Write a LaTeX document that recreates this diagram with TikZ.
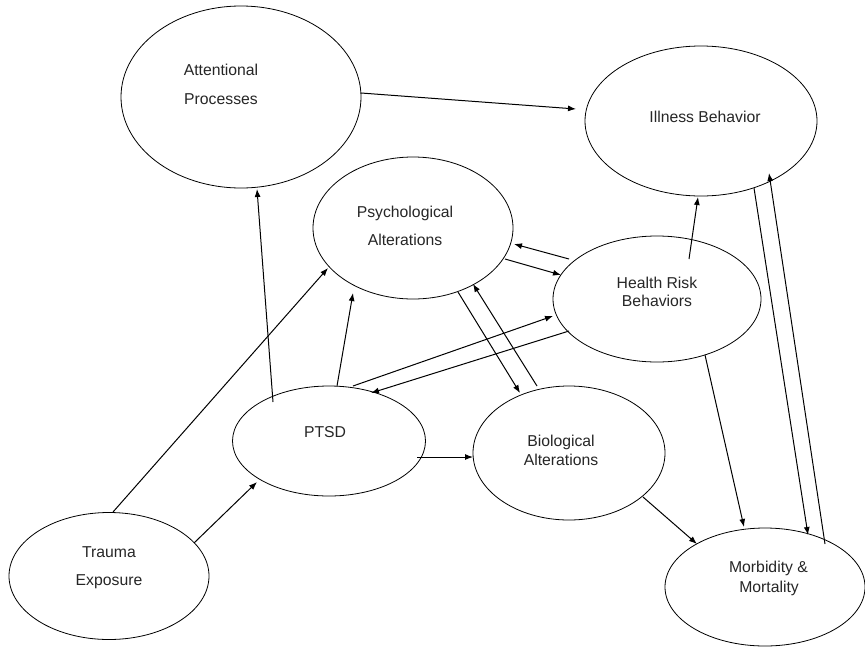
\documentclass[tikz,border=0pt]{standalone}
\usepackage{fontspec}
\setmainfont{Liberation Sans}
\usetikzlibrary{shapes.geometric,arrows.meta,calc}
\tikzset{
  ell/.style={draw, ellipse, inner sep=0pt, line width=0.8pt},
  lbl/.style={anchor=base, inner sep=0pt, font=\fontsize{15.75}{18}\selectfont, text=black!85},
  arr/.style={line width=1pt, -{Latex[length=8pt,width=6pt]}}
}
\begin{document}
\begin{tikzpicture}[x=1pt,y=-1pt]
\useasboundingbox[fill=white] (0,0) rectangle (865,646);
% ellipses
\node[ell, minimum width=240, minimum height=182] (att) at (241,97) {};
\node[ell, minimum width=232, minimum height=150] (ill) at (701,121) {};
\node[ell, minimum width=200, minimum height=142] (psy) at (413,228) {};
\node[ell, minimum width=208, minimum height=126] (hrb) at (657,299) {};
\node[ell, minimum width=193, minimum height=110] (ptsd) at (329,441) {};
\node[ell, minimum width=192, minimum height=134] (bio) at (569,453) {};
\node[ell, minimum width=200, minimum height=127] (trm) at (109,576) {};
\node[ell, minimum width=200, minimum height=118] (mm) at (765,587) {};
% labels
\node[lbl] (attA) at (221,75) {Attentional};
\node[lbl] (attB) at (221,104) {Processes};
\node[lbl] (illA) at (705,122.5) {Illness Behavior};
\node[lbl] (psyA) at (405,217.5) {Psychological};
\node[lbl] (psyB) at (405,245.5) {Alterations};
\node[lbl] (hrbA) at (657,288.5) {Health Risk};
\node[lbl] (hrbB) at (657,306.5) {Behaviors};
\node[lbl] (ptsdA) at (325,437.5) {PTSD};
\node[lbl] (bioA) at (561,446) {Biological};
\node[lbl] (bioB) at (561,465) {Alterations};
\node[lbl] (trmA) at (109,557.5) {Trauma};
\node[lbl] (trmB) at (109,585.5) {Exposure};
\node[lbl] (mmA) at (768.5,572.5) {Morbidity \&};
\node[lbl] (mmB) at (769,592) {Mortality};
% connectors
\draw[arr] ($(att)+(120,-4)$) -- ($(ill)+(-125,-12)$);
\draw[arr] ($(ptsd)+(-56,-39)$) -- ($(att)+(16,92)$);
\draw[arr] ($(trm)+(4,-64)$) -- ($(psy)+(-85,40)$);
\draw[arr] ($(ptsd)+(8,-55)$) -- ($(psy)+(-60,65)$);
\draw[arr] ($(trm)+(85,-33)$) -- ($(ptsd)+(-72,41)$);
\draw[arr] ($(hrb)+(-88,-40)$) -- ($(psy)+(101,16)$);
\draw[arr] ($(psy)+(92,31)$) -- ($(hrb)+(-96,-24)$);
\draw[arr] ($(hrb)+(32,-40)$) -- ($(ill)+(-3,76)$);
\draw[arr] ($(ill)+(53,67)$) -- ($(mm)+(43,-52)$);
\draw[arr] ($(mm)+(60,-43)$) -- ($(ill)+(68,52)$);
\draw[arr] ($(psy)+(45,64)$) -- ($(bio)+(-49,-60)$);
\draw[arr] ($(bio)+(-32,-67)$) -- ($(psy)+(60,56)$);
\draw[arr] ($(ptsd)+(24,-55)$) -- ($(hrb)+(-104,17)$);
\draw[arr] ($(hrb)+(-88,32)$) -- ($(ptsd)+(42,-48)$);
\draw[arr] ($(ptsd)+(88,16)$) -- ($(bio)+(-96,4)$);
\draw[arr] ($(hrb)+(48,56)$) -- ($(mm)+(-21,-60)$);
\draw[arr] ($(bio)+(74,44)$) -- ($(mm)+(-68,-43)$);
\end{tikzpicture}
\end{document}
